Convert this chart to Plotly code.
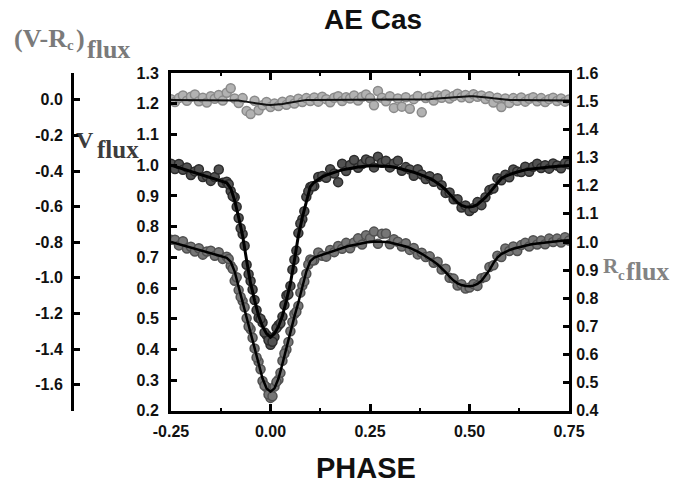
import plotly.graph_objects as go

# ---------------- data ----------------
phase = [-0.25, -0.24, -0.23, -0.22, -0.21, -0.20, -0.19, -0.18, -0.17, -0.16,
         -0.15, -0.14, -0.13, -0.12, -0.11, -0.10, -0.09, -0.08, -0.07, -0.06,
         -0.05, -0.04, -0.03, -0.02, -0.01, 0.00, 0.01, 0.02, 0.03, 0.04,
         0.05, 0.06, 0.07, 0.08, 0.09, 0.10, 0.11, 0.12, 0.13, 0.14,
         0.15, 0.16, 0.17, 0.18, 0.19, 0.20, 0.21, 0.22, 0.23, 0.24,
         0.25, 0.26, 0.27, 0.28, 0.29, 0.30, 0.31, 0.32, 0.33, 0.34,
         0.35, 0.36, 0.37, 0.38, 0.39, 0.40, 0.41, 0.42, 0.43, 0.44,
         0.45, 0.46, 0.47, 0.48, 0.49, 0.50, 0.51, 0.52, 0.53, 0.54,
         0.55, 0.56, 0.57, 0.58, 0.59, 0.60, 0.61, 0.62, 0.63, 0.64,
         0.65, 0.66, 0.67, 0.68, 0.69, 0.70, 0.71, 0.72, 0.73, 0.74, 0.75]

# extra observations inside the primary eclipse
phase_ecl = [-0.105, -0.095, -0.085, -0.075, -0.065, -0.055, -0.045, -0.035,
             -0.025, -0.015, -0.005, 0.005, 0.015, 0.025, 0.035, 0.045,
             0.055, 0.065, 0.075, 0.085, 0.095, 0.105]

# V flux observations (left axis)
v_obs = [1.005, 0.988, 1.004, 0.985, 0.993, 0.968, 0.980, 0.987, 0.962, 0.965,
         0.949, 0.962, 0.986, 0.943, 0.946, 0.916, 0.896, 0.828, 0.776, 0.676,
         0.623, 0.561, 0.503, 0.488, 0.447, 0.415, 0.441, 0.479, 0.507, 0.576,
         0.607, 0.692, 0.779, 0.824, 0.897, 0.929, 0.932, 0.962, 0.965, 0.959,
         0.987, 0.973, 0.945, 1.005, 0.981, 1.001, 1.017, 0.992, 1.004, 1.019,
         1.013, 0.993, 1.028, 1.008, 1.015, 0.993, 1.006, 1.015, 0.982, 0.994,
         0.986, 0.966, 0.987, 0.970, 0.955, 0.964, 0.946, 0.958, 0.935, 0.910,
         0.911, 0.889, 0.889, 0.862, 0.869, 0.851, 0.861, 0.880, 0.870, 0.896,
         0.919, 0.924, 0.958, 0.951, 0.969, 0.961, 0.986, 0.980, 0.978, 0.995,
         0.979, 0.995, 1.005, 0.991, 1.000, 0.989, 1.006, 0.999, 0.990, 1.007, 1.003]
v_obs_ecl = [0.938, 0.900, 0.865, 0.795, 0.738, 0.645, 0.595, 0.528, 0.500, 0.455,
             0.430, 0.425, 0.470, 0.485, 0.545, 0.580, 0.660, 0.722, 0.810, 0.850,
             0.915, 0.932]

# V flux model curve
v_fit = [1.000, 0.996, 0.992, 0.988, 0.984, 0.980, 0.976, 0.972, 0.968, 0.963,
         0.959, 0.955, 0.951, 0.947, 0.943, 0.925, 0.885, 0.830, 0.770, 0.690,
         0.615, 0.560, 0.510, 0.475, 0.452, 0.440, 0.452, 0.475, 0.510, 0.560,
         0.615, 0.690, 0.770, 0.830, 0.885, 0.930, 0.945, 0.955, 0.962, 0.968,
         0.973, 0.977, 0.981, 0.985, 0.988, 0.990, 0.992, 0.994, 0.996, 0.997,
         0.998, 0.998, 0.998, 0.998, 0.997, 0.996, 0.994, 0.991, 0.988, 0.985,
         0.981, 0.977, 0.973, 0.968, 0.963, 0.957, 0.950, 0.942, 0.932, 0.920,
         0.905, 0.891, 0.878, 0.869, 0.865, 0.864, 0.866, 0.872, 0.882, 0.895,
         0.910, 0.927, 0.943, 0.957, 0.964, 0.970, 0.974, 0.978, 0.982, 0.985,
         0.987, 0.989, 0.991, 0.992, 0.993, 0.994, 0.995, 0.996, 0.997, 0.998, 0.999]

# Rc flux observations (right axis)
rc_obs = [1.008, 1.008, 0.988, 1.003, 0.977, 0.983, 0.966, 0.978, 0.955, 0.966,
          0.969, 0.951, 0.964, 0.940, 0.948, 0.916, 0.862, 0.829, 0.790, 0.729,
          0.690, 0.622, 0.575, 0.506, 0.484, 0.446, 0.486, 0.511, 0.578, 0.618,
          0.683, 0.744, 0.773, 0.845, 0.887, 0.938, 0.935, 0.963, 0.951, 0.948,
          0.972, 0.964, 0.986, 0.976, 0.997, 0.978, 0.998, 1.013, 0.991, 1.024,
          1.013, 1.037, 0.994, 1.029, 1.030, 0.992, 1.010, 1.001, 0.984, 0.996,
          0.972, 0.979, 0.956, 0.962, 0.947, 0.949, 0.926, 0.930, 0.902, 0.905,
          0.873, 0.870, 0.845, 0.850, 0.835, 0.838, 0.851, 0.844, 0.871, 0.876,
          0.911, 0.917, 0.951, 0.947, 0.977, 0.968, 0.984, 0.968, 0.989, 0.997,
          0.984, 1.006, 0.991, 1.005, 0.992, 1.012, 1.000, 1.012, 0.998, 1.017, 1.005]
rc_obs_ecl = [0.940, 0.905, 0.875, 0.805, 0.768, 0.700, 0.660, 0.590, 0.548, 0.490,
              0.458, 0.452, 0.503, 0.535, 0.604, 0.645, 0.716, 0.752, 0.820, 0.860,
              0.920, 0.934]

# Rc flux model curve
rc_fit = [1.000, 0.996, 0.992, 0.988, 0.984, 0.980, 0.976, 0.972, 0.968, 0.964,
          0.960, 0.956, 0.952, 0.948, 0.944, 0.930, 0.895, 0.840, 0.785, 0.735,
          0.680, 0.625, 0.567, 0.515, 0.480, 0.468, 0.480, 0.515, 0.567, 0.625,
          0.680, 0.735, 0.785, 0.840, 0.895, 0.932, 0.945, 0.950, 0.955, 0.960,
          0.965, 0.970, 0.975, 0.979, 0.983, 0.987, 0.990, 0.993, 0.996, 0.999,
          1.001, 1.002, 1.002, 1.001, 1.000, 0.998, 0.995, 0.992, 0.988, 0.984,
          0.979, 0.973, 0.966, 0.958, 0.950, 0.941, 0.931, 0.920, 0.908, 0.893,
          0.877, 0.863, 0.853, 0.847, 0.844, 0.843, 0.845, 0.851, 0.862, 0.880,
          0.900, 0.925, 0.945, 0.957, 0.965, 0.971, 0.976, 0.980, 0.984, 0.987,
          0.990, 0.993, 0.995, 0.997, 0.999, 1.001, 1.002, 1.003, 1.004, 1.005, 1.006]

# (V-Rc) flux observations (far-left axis)
vrc_obs = [0.004, -0.012, 0.010, 0.025, -0.005, 0.018, 0.030, -0.008, 0.012, -0.015,
           0.020, 0.006, 0.028, -0.004, 0.040, 0.065, 0.008, -0.018, 0.010, -0.062,
           -0.080, -0.005, -0.058, -0.030, -0.012, -0.040, -0.020, -0.035, -0.010, -0.028,
           -0.002, -0.020, 0.006, -0.012, 0.010, -0.006, 0.014, -0.010, 0.018, 0.004,
           -0.014, 0.012, 0.020, -0.006, 0.015, 0.008, 0.025, -0.004, 0.018, 0.030,
           0.010, -0.030, 0.050, 0.012, -0.008, 0.020, -0.045, 0.008, -0.038, 0.015,
           -0.050, 0.004, 0.022, -0.070, 0.010, 0.018, -0.004, 0.025, 0.012, 0.030,
           0.008, 0.022, 0.035, 0.015, 0.028, 0.010, 0.032, 0.018, 0.025, 0.005,
           0.020, -0.015, 0.012, -0.040, 0.008, -0.018, 0.010, -0.005, 0.014, -0.010,
           0.006, 0.015, -0.008, 0.010, -0.012, 0.004, 0.012, -0.006, 0.008, -0.010, 0.002]

# (V-Rc) flux model curve
vrc_fit = [0.000, 0.000, 0.000, 0.000, 0.000, 0.000, 0.000, 0.000, 0.000, 0.000,
           0.000, 0.000, 0.000, 0.000, 0.000, 0.000, 0.000, -0.003, -0.007, -0.011,
           -0.015, -0.019, -0.023, -0.026, -0.028, -0.029, -0.028, -0.026, -0.023, -0.019,
           -0.015, -0.011, -0.007, -0.003, 0.000, 0.000, 0.000, 0.000, 0.000, 0.000,
           0.000, 0.000, 0.001, 0.001, 0.001, 0.002, 0.002, 0.002, 0.002, 0.002,
           0.002, 0.002, 0.002, 0.002, 0.002, 0.002, 0.001, 0.001, 0.001, 0.001,
           0.001, 0.001, 0.001, 0.001, 0.002, 0.004, 0.006, 0.008, 0.010, 0.012,
           0.014, 0.016, 0.018, 0.019, 0.020, 0.020, 0.020, 0.019, 0.017, 0.015,
           0.012, 0.009, 0.006, 0.004, 0.002, 0.000, 0.000, 0.000, 0.000, 0.000,
           -0.001, -0.001, -0.001, -0.002, -0.002, -0.002, -0.002, -0.003, -0.003, -0.003, -0.003]

x_ticks = [-0.25, 0.0, 0.25, 0.5, 0.75]
x_labels = ["-0.25", "0.00", "0.25", "0.50", "0.75"]
x_minor = [-0.125, 0.125, 0.375, 0.625]
v_ticks = [0.2, 0.3, 0.4, 0.5, 0.6, 0.7, 0.8, 0.9, 1.0, 1.1, 1.2, 1.3]
rc_ticks = [0.4, 0.5, 0.6, 0.7, 0.8, 0.9, 1.0, 1.1, 1.2, 1.3, 1.4, 1.5, 1.6]
vrc_ticks = [0.0, -0.2, -0.4, -0.6, -0.8, -1.0, -1.2, -1.4, -1.6]
vrc_labels = ["0.0", "-0.2", "-0.4", "-0.6", "-0.8", "-1.0", "-1.2", "-1.4", "-1.6"]

# ---------------- layout helpers ----------------
W, H = 688, 484
PL, PR, PT, PB = 171, 569, 73, 411   # plot box in pixels


def px(x):
    return x / W


def py(y):
    return (PB - y) / (PB - PT)


SANS = "Liberation Sans, Arial, sans-serif"
SERIF = "Liberation Serif, Times New Roman, serif"

VRC_MK = dict(size=9, color="#b2b2b2", line=dict(color="#8a8a8a", width=1.5))
V_MK = dict(size=9, color="#525252", line=dict(color="#2c2c2c", width=1.5))
RC_MK = dict(size=9, color="#767676", line=dict(color="#505050", width=1.5))

fig = go.Figure()

# (V-Rc) flux
fig.add_trace(go.Scatter(x=phase, y=vrc_obs, mode="markers", yaxis="y3",
                         marker=VRC_MK, showlegend=False))
fig.add_trace(go.Scatter(x=phase, y=vrc_fit, mode="lines", yaxis="y3",
                         line=dict(color="#111111", width=2), showlegend=False))
# V flux
fig.add_trace(go.Scatter(x=phase, y=v_obs, mode="markers", yaxis="y",
                         marker=V_MK, showlegend=False))
fig.add_trace(go.Scatter(x=phase_ecl, y=v_obs_ecl, mode="markers", yaxis="y",
                         marker=V_MK, showlegend=False))
fig.add_trace(go.Scatter(x=phase, y=v_fit, mode="lines", yaxis="y",
                         line=dict(color="#000000", width=3), showlegend=False))
# Rc flux
fig.add_trace(go.Scatter(x=phase, y=rc_obs, mode="markers", yaxis="y2",
                         marker=RC_MK, showlegend=False))
fig.add_trace(go.Scatter(x=phase_ecl, y=rc_obs_ecl, mode="markers", yaxis="y2",
                         marker=RC_MK, showlegend=False))
fig.add_trace(go.Scatter(x=phase, y=rc_fit, mode="lines", yaxis="y2",
                         line=dict(color="#000000", width=2.5), showlegend=False))

tickfont = dict(family=SANS, size=16, color="#111111", weight="bold")

fig.update_layout(
    template="none",
    width=W, height=H,
    margin=dict(l=0, r=0, t=PT, b=H - PB, pad=0),
    paper_bgcolor="white", plot_bgcolor="white",
    showlegend=False,
    xaxis=dict(domain=[px(PL), px(PR)], range=[-0.25, 0.75],
               tickvals=x_ticks, ticktext=x_labels, tickfont=tickfont,
               ticks="inside", ticklen=7, tickwidth=2.5, tickcolor="black",
               minor=dict(tickvals=x_minor, ticks="inside",
                          ticklen=3, tickwidth=1.5, tickcolor="black"),
               showline=True, linewidth=3, linecolor="black", mirror="ticks",
               showgrid=False, zeroline=False, automargin=False,
               ticklabelstandoff=4),
    yaxis=dict(range=[0.1995, 1.3005], tickvals=v_ticks, tickformat=".1f",
               tickfont=tickfont, ticks="inside", ticklen=6, tickwidth=2.5,
               tickcolor="black", showline=True, linewidth=3, linecolor="black",
               showgrid=False, zeroline=False, automargin=False,
               ticklabelstandoff=6),
    yaxis2=dict(range=[0.3995, 1.6005], tickvals=rc_ticks, tickformat=".1f",
                overlaying="y", side="right", anchor="x",
                tickfont=tickfont, ticks="inside", ticklen=6, tickwidth=2.5,
                tickcolor="black", showline=True, linewidth=3, linecolor="black",
                showgrid=False, zeroline=False, automargin=False,
                ticklabelstandoff=1),
    yaxis3=dict(range=[-1.748, 0.151], tickvals=vrc_ticks, ticktext=vrc_labels,
                overlaying="y", side="left", anchor="free", position=px(72),
                tickfont=tickfont, ticks="inside", ticklen=6, tickwidth=2.5,
                tickcolor="black", showline=True, linewidth=3, linecolor="black",
                showgrid=False, zeroline=False, automargin=False,
                ticklabelstandoff=5),
)


def label(text, x, y, size, color, family=SERIF, anchor="left"):
    return dict(text="<b>" + text + "</b>", x=px(x), y=py(y), xanchor=anchor,
                yanchor="middle", xref="paper", yref="paper", showarrow=False,
                borderpad=0, font=dict(family=family, size=size, color=color))


GRAY = "#7a7a7a"
DARK = "#3c3c3c"
RGRAY = "#838383"
annotations = [
    label("AE Cas", 373, 20, 28, "#111111", SANS, "center"),
    label("PHASE", 366, 468, 29, "#111111", SANS, "center"),
    # (V-Rc)flux
    label("(V-R", 13, 38, 26, GRAY),
    label("c", 66, 45, 15, GRAY),
    label(")", 75, 39, 26, GRAY),
    label("flux", 86, 49, 26, GRAY),
    # V flux
    label("V", 75, 140, 24, DARK),
    label("flux", 96, 149, 25, DARK),
    # Rc flux
    label("R", 602, 266, 21, RGRAY),
    label("c", 617, 275, 15, RGRAY),
    label("flux", 625, 271, 26, RGRAY),
]
fig.update_layout(annotations=annotations)

fig.write_html("out.html", config={"displayModeBar": False},
               post_script="document.body.style.margin='0';"
                           "document.body.style.overflow='hidden';")
